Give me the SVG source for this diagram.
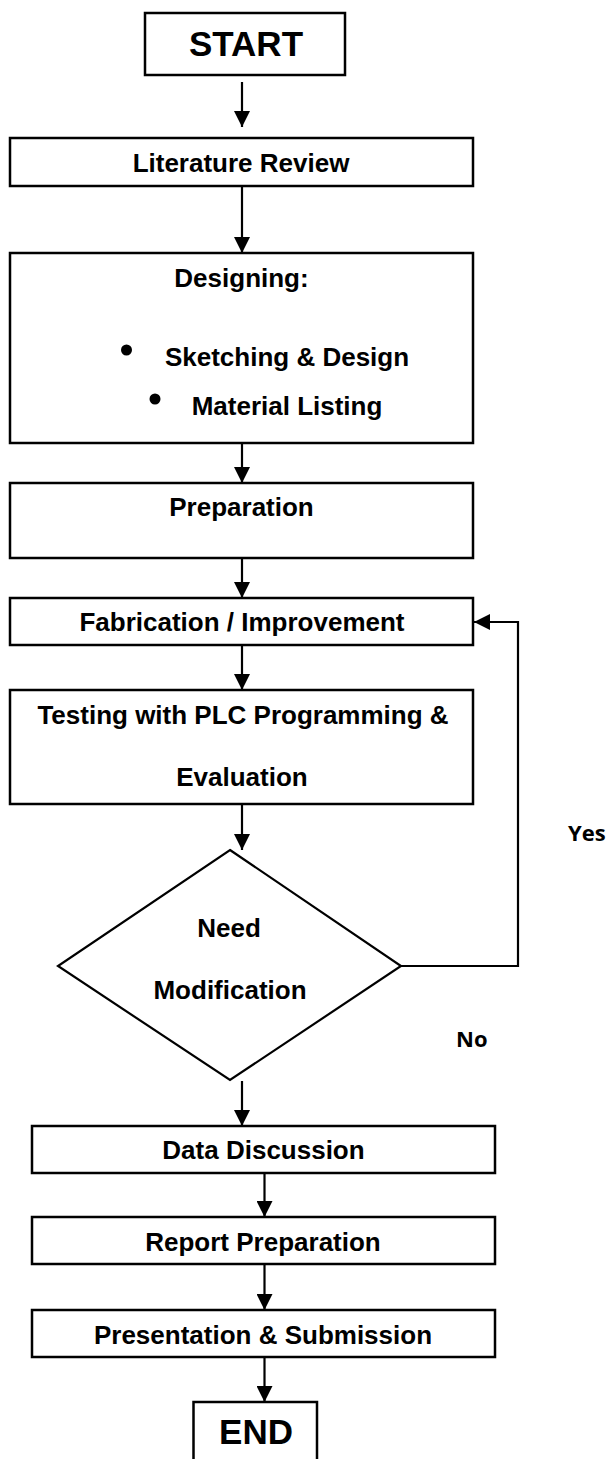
<svg xmlns="http://www.w3.org/2000/svg" width="610" height="1459" viewBox="0 0 610 1459">
<style>
.box{fill:#fff;stroke:#000;stroke-width:2.5}
.t{font-family:"Liberation Sans",Arial,sans-serif;font-weight:bold;font-size:26px;fill:#000;text-anchor:middle}
.big{font-size:35px}
.lbl{font-family:"Open Sans","Liberation Sans",sans-serif;font-weight:700;font-size:22px;fill:#000}
.c{fill:none;stroke:#000;stroke-width:2.2}
</style>
<defs>
<marker id="ah" viewBox="0 0 10 10" refX="10" refY="5" markerWidth="17" markerHeight="16" markerUnits="userSpaceOnUse" orient="auto">
<path d="M0,0 L10,5 L0,10 z" fill="#000"/>
</marker>
</defs>
<rect width="610" height="1459" fill="#fff"/>
<g id="connectors">
<line class="c" x1="242" y1="82" x2="242" y2="127" marker-end="url(#ah)"/>
<line class="c" x1="242" y1="186" x2="242" y2="253" marker-end="url(#ah)"/>
<line class="c" x1="242" y1="443" x2="242" y2="483" marker-end="url(#ah)"/>
<line class="c" x1="242" y1="558" x2="242" y2="598" marker-end="url(#ah)"/>
<line class="c" x1="242" y1="645" x2="242" y2="690" marker-end="url(#ah)"/>
<line class="c" x1="242" y1="804" x2="242" y2="850" marker-end="url(#ah)"/>
<polyline class="c" points="401,966 518,966 518,622 474,622" marker-end="url(#ah)"/>
<line class="c" x1="242" y1="1081" x2="242" y2="1126" marker-end="url(#ah)"/>
<line class="c" x1="264.5" y1="1173" x2="264.5" y2="1217" marker-end="url(#ah)"/>
<line class="c" x1="264.5" y1="1264" x2="264.5" y2="1310" marker-end="url(#ah)"/>
<line class="c" x1="264.5" y1="1357" x2="264.5" y2="1402" marker-end="url(#ah)"/>
</g>
<g id="start">
<rect class="box" x="145" y="13" width="200" height="62"/>
<text class="t big" x="246" y="56">START</text>
</g>
<g id="literature">
<rect class="box" x="10" y="138" width="463" height="48"/>
<text class="t" x="241" y="172">Literature Review</text>
</g>
<g id="designing">
<rect class="box" x="10" y="253" width="463" height="190"/>
<text class="t" x="241.5" y="287">Designing:</text>
<circle cx="126.5" cy="350" r="5.5" fill="#000"/>
<text class="t" x="287" y="366">Sketching &amp; Design</text>
<circle cx="155" cy="399" r="5.5" fill="#000"/>
<text class="t" x="287" y="415">Material Listing</text>
</g>
<g id="preparation">
<rect class="box" x="10" y="483" width="463" height="75"/>
<text class="t" x="241.5" y="516">Preparation</text>
</g>
<g id="fabrication">
<rect class="box" x="10" y="598" width="463" height="47"/>
<text class="t" x="242" y="631">Fabrication / Improvement</text>
</g>
<g id="testing">
<rect class="box" x="10" y="690" width="463" height="114"/>
<text class="t" x="243" y="724">Testing with PLC Programming &amp;</text>
<text class="t" x="242" y="786">Evaluation</text>
</g>
<g id="decision">
<polygon points="230,850 401,966 230,1080 58,966" fill="#fff" stroke="#000" stroke-width="2.2"/>
<text class="t" x="229" y="937">Need</text>
<text class="t" x="230" y="999">Modification</text>
</g>
<g id="labels">
<text class="lbl" x="568" y="841">Yes</text>
<text class="lbl" x="456" y="1047">No</text>
</g>
<g id="data">
<rect class="box" x="32" y="1126" width="463" height="47"/>
<text class="t" x="263.5" y="1159">Data Discussion</text>
</g>
<g id="report">
<rect class="box" x="32" y="1217" width="463" height="47"/>
<text class="t" x="263" y="1251">Report Preparation</text>
</g>
<g id="presentation">
<rect class="box" x="32" y="1310" width="463" height="47"/>
<text class="t" x="263" y="1344">Presentation &amp; Submission</text>
</g>
<g id="end">
<rect class="box" x="193.5" y="1402" width="123.5" height="60"/>
<text class="t big" x="256" y="1444">END</text>
</g>
</svg>
